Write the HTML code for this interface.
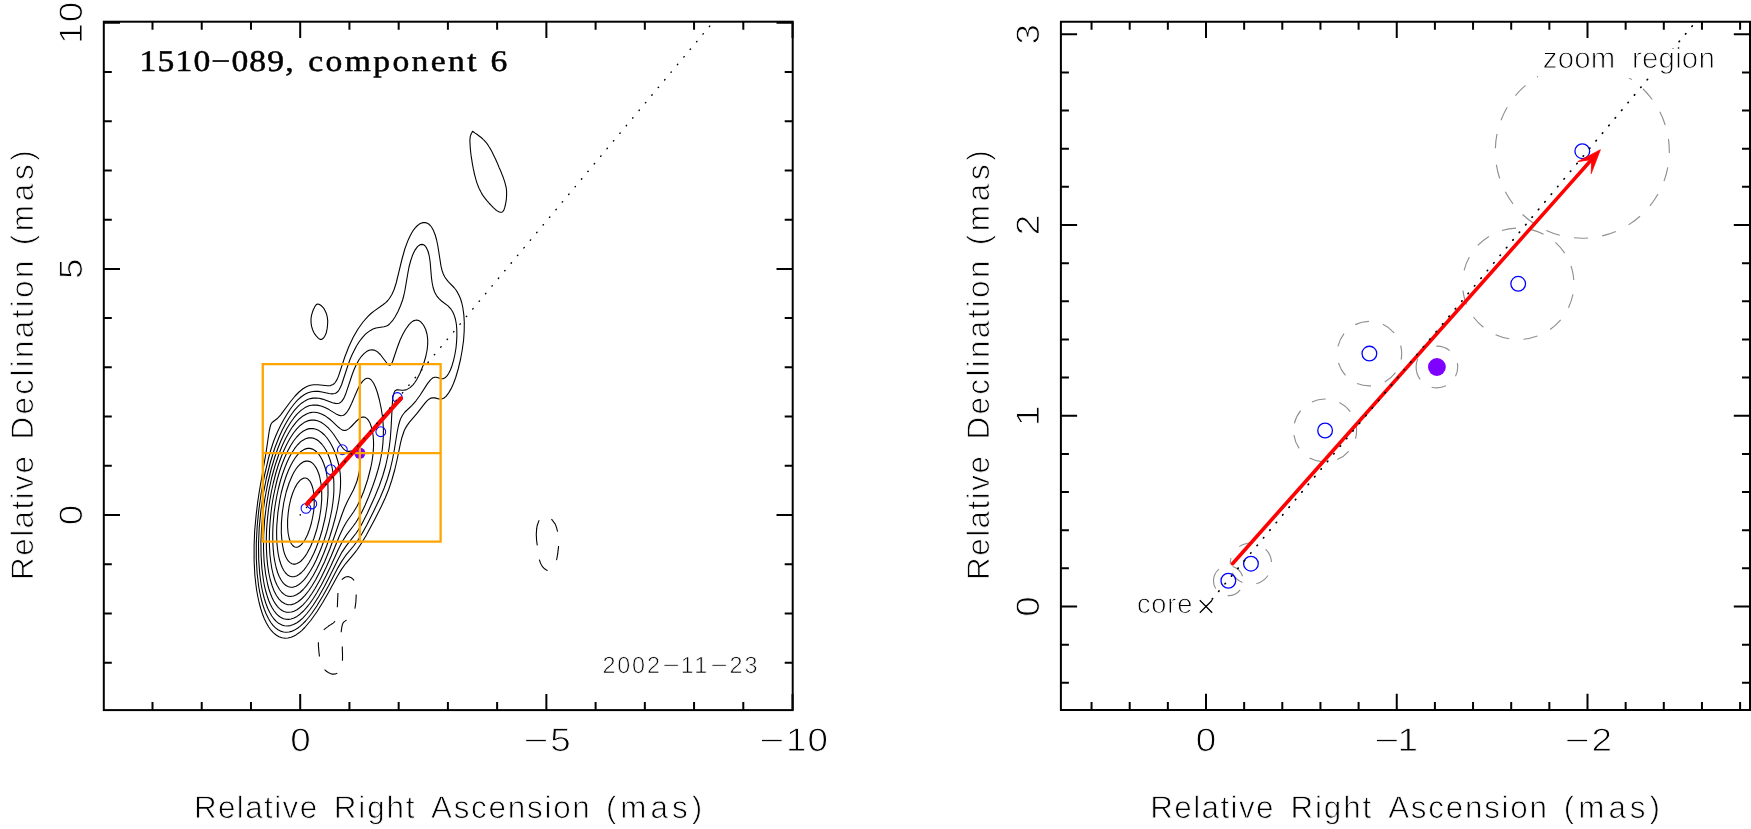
<!DOCTYPE html>
<html lang="en"><head><meta charset="utf-8"><title>1510-089, component 6</title>
<style>
html,body{margin:0;padding:0;background:#fff;}
svg{display:block;}
text{font-family:"Liberation Sans", sans-serif;fill:#000;text-rendering:geometricPrecision;}
.ax{font-size:31.4px;stroke:#fff;stroke-width:0.8px;}
.axd{font-size:32.6px;stroke:#fff;stroke-width:0.85px;}
.an{font-size:29.4px;fill:#000;stroke:#fff;stroke-width:1.0px;}
.an2{font-size:27.2px;fill:#000;stroke:#fff;stroke-width:0.9px;}
.dt{font-size:23.4px;fill:#000;stroke:#fff;stroke-width:0.7px;}
.ti{font-family:"Liberation Serif", serif;font-size:30px;stroke:#000;stroke-width:0.5px;}
.fr{fill:none;stroke:#000;stroke-width:2;stroke-linecap:square;}
.tk{fill:none;stroke:#000;stroke-width:2;stroke-linecap:butt;}
.ct{fill:none;stroke:#000;stroke-width:1.1;stroke-linejoin:round;}
.cn{fill:none;stroke:#000;stroke-width:1.1;}
.dots{fill:none;stroke:#000;stroke-width:1.4;stroke-linecap:round;stroke-dasharray:0.5 9.46;stroke-dashoffset:0.2;}
.dots2{fill:none;stroke:#000;stroke-width:1.7;stroke-linecap:round;stroke-dasharray:0.5 9.46;stroke-dashoffset:0.2;}
.bc{fill:none;stroke:#0000ff;}
.gc{fill:none;stroke:#909090;stroke-width:1.15;}
.red{fill:none;stroke:#ff0000;stroke-linecap:round;}
.or{fill:none;stroke:#ffa500;stroke-width:2.3;}
</style></head><body>
<svg width="1751" height="829" viewBox="0 0 1751 829">
<rect x="0" y="0" width="1751" height="829" fill="#fff"/>
<g id="left-panel" opacity="0.999">
<path class="ct" d="M288.0 638.0L285.0 638.2L282.0 637.8L279.0 636.8L276.5 635.3L273.5 632.9L271.0 630.2L268.7 627.0L266.4 623.0L264.2 618.5L262.3 613.5L260.7 608.5L259.2 603.0L257.8 596.5L256.6 590.0L255.7 583.0L254.8 574.5L254.1 560.5L254.1 545.5L254.7 530.5L256.2 514.5L257.7 502.0L259.3 491.5L266.0 452.9L269.3 430.5L270.5 425.5L271.1 424.0L272.1 422.5L277.0 418.8L280.5 415.1L290.6 401.5L295.1 396.0L299.0 392.0L303.0 388.8L305.5 387.3L308.0 386.1L310.5 385.3L313.5 384.8L318.0 384.7L327.5 385.8L330.5 385.6L333.0 384.5L334.0 383.8L335.2 382.5L337.0 379.6L338.5 376.1L344.8 357.0L348.9 346.5L353.1 337.5L358.0 329.0L363.0 322.0L368.0 316.4L371.0 313.5L374.0 311.1L383.0 304.8L386.0 302.4L387.8 300.5L389.4 298.5L392.0 294.3L394.1 289.5L396.2 283.0L401.9 259.5L404.8 249.0L408.0 240.4L409.8 236.5L411.5 233.3L413.2 230.5L415.0 228.1L417.0 226.0L419.0 224.3L421.0 223.2L423.0 222.6L425.0 222.5L426.5 222.9L427.8 223.5L429.0 224.3L430.3 225.5L431.5 227.0L433.5 230.6L435.2 235.0L436.5 239.5L437.7 245.0L441.0 266.2L442.0 270.2L443.3 274.0L444.8 277.0L446.5 279.4L448.5 281.8L454.0 287.5L456.0 290.0L457.5 292.4L459.1 295.5L460.6 299.0L461.8 303.0L462.8 307.5L463.8 314.5L464.3 322.5L464.2 331.0L463.6 340.0L462.3 349.5L460.6 359.0L458.2 369.0L455.7 377.5L453.5 383.5L451.0 388.9L448.5 393.2L446.0 396.3L444.0 398.0L443.0 398.5L441.5 399.0L439.0 399.0L435.0 397.9L433.0 397.7L431.0 398.1L429.0 399.2L427.0 400.9L425.0 403.2L417.0 413.4L409.5 422.2L407.0 425.6L405.5 428.1L404.1 431.0L402.0 437.2L400.5 443.1L396.8 461.0L394.7 470.0L391.7 480.5L388.7 489.5L385.2 498.0L381.3 506.5L374.7 519.5L366.4 535.0L361.6 543.0L357.3 549.5L353.5 554.4L345.5 563.8L341.5 569.4L337.5 576.0L328.2 593.0L322.7 602.5L316.8 612.0L310.7 620.5L304.8 627.5L302.0 630.3L299.0 632.8L296.0 634.9L293.5 636.3L291.0 637.3ZM289.0 632.0L286.0 632.3L283.5 632.0L280.5 631.1L278.0 629.8L275.5 627.9L273.0 625.4L270.8 622.5L268.4 618.5L266.2 614.0L264.4 609.5L262.7 604.5L261.2 599.0L259.8 592.5L258.7 586.5L257.1 573.0L256.3 558.5L256.3 543.0L257.2 526.0L258.8 510.0L261.2 493.0L264.7 474.5L268.7 457.5L270.8 450.0L273.2 442.5L275.3 437.0L277.9 431.0L280.8 425.0L283.8 419.5L287.4 413.5L290.7 408.5L294.1 404.0L297.5 400.2L301.0 397.0L304.5 394.5L308.0 392.8L311.5 391.7L315.0 391.3L318.5 391.4L322.0 392.0L329.0 393.5L332.0 393.9L334.7 393.5L336.0 393.0L337.0 392.3L338.3 391.0L339.3 389.5L341.5 385.0L348.2 364.5L350.2 359.0L352.4 354.0L356.5 346.0L358.7 342.5L361.0 339.3L363.0 336.8L365.5 334.2L368.0 332.1L370.5 330.4L373.0 329.1L376.0 328.0L384.0 326.7L386.5 326.0L388.0 325.2L389.5 324.0L392.5 320.7L395.0 317.0L398.0 311.5L400.5 305.8L402.6 300.0L403.8 295.5L404.9 290.5L407.8 273.5L409.0 267.0L410.6 261.0L412.5 255.3L415.0 250.1L417.5 246.7L419.0 245.4L420.5 244.6L422.0 244.4L423.0 244.6L424.0 245.0L425.0 245.8L426.5 247.9L427.9 251.0L428.9 254.5L429.6 258.0L430.2 262.5L431.4 277.0L432.1 282.5L433.1 287.5L434.6 292.0L436.5 295.6L439.0 298.7L441.5 301.0L448.0 305.9L451.0 309.2L452.5 311.5L453.5 313.5L454.5 316.1L455.5 319.5L456.4 324.5L456.8 329.5L456.9 335.5L456.6 341.5L456.0 348.0L454.9 354.5L453.5 360.6L451.9 366.0L450.4 370.0L448.5 373.7L447.0 375.9L445.0 377.8L443.5 378.6L442.0 378.8L440.5 378.6L436.5 377.3L434.5 377.3L432.5 378.1L430.5 379.8L427.5 383.6L420.2 395.0L416.0 400.8L412.0 405.3L405.0 412.0L402.3 415.5L401.0 417.9L400.1 420.0L398.5 425.5L397.1 432.5L394.3 450.0L392.4 460.0L390.2 469.5L387.4 479.0L384.2 488.0L380.2 497.5L373.8 511.0L366.8 525.0L362.1 533.5L357.7 540.5L353.6 546.0L345.5 555.7L341.5 561.6L338.0 567.6L328.7 585.5L323.1 595.5L316.8 606.0L311.7 613.5L308.6 617.5L305.6 621.0L303.0 623.7L300.0 626.4L297.5 628.3L294.5 630.1L291.5 631.4ZM287.5 626.0L284.5 625.8L282.0 625.1L279.0 623.6L276.5 621.6L274.0 619.0L271.8 616.0L269.8 612.5L267.8 608.5L265.9 603.5L264.3 598.5L262.9 593.0L261.7 587.5L260.7 581.5L259.8 574.5L258.7 560.0L258.5 544.0L259.2 528.0L260.8 511.5L263.2 494.5L266.3 478.5L270.3 462.5L274.6 448.5L279.3 436.5L282.3 430.0L285.2 424.5L288.4 419.0L291.7 414.0L295.0 409.7L298.5 405.9L301.5 403.2L305.0 400.9L307.5 399.6L310.5 398.6L313.0 398.1L316.0 398.0L319.0 398.3L322.5 399.1L332.5 402.7L335.5 403.4L337.5 403.5L339.0 403.2L340.4 402.5L341.5 401.6L343.5 398.9L345.5 394.6L352.2 374.5L354.3 369.0L356.4 364.5L359.0 359.8L361.5 356.3L364.0 353.6L366.5 351.6L369.0 350.3L371.5 349.8L374.0 350.1L376.0 350.9L378.0 352.3L380.3 354.5L387.5 364.0L389.0 365.1L390.0 365.2L390.5 365.0L391.5 363.8L392.5 361.8L397.3 347.5L400.1 340.0L402.7 334.5L405.5 329.5L409.0 324.6L411.0 322.6L412.5 321.4L414.0 320.6L415.5 320.2L417.0 320.1L418.5 320.5L420.0 321.3L421.0 322.2L422.5 323.8L423.7 325.5L425.7 329.5L427.1 334.5L427.7 339.5L427.7 344.5L427.1 350.0L425.8 356.5L423.3 365.0L420.0 373.3L416.5 380.0L414.8 382.5L413.0 384.8L410.0 387.6L407.0 389.4L405.5 389.9L403.5 390.2L401.5 390.2L398.0 389.8L396.5 389.9L395.5 390.4L395.0 390.9L394.0 392.8L393.0 397.0L392.4 402.5L391.1 427.5L390.3 438.5L389.2 447.5L387.8 456.0L385.6 466.0L382.7 476.0L379.2 486.0L374.7 497.0L367.2 513.5L361.3 525.0L358.6 529.5L355.9 533.5L346.0 546.1L342.0 552.1L338.0 559.4L329.3 577.0L324.4 586.5L318.7 596.5L313.3 605.0L309.7 610.0L306.5 614.0L303.0 617.8L300.0 620.5L297.0 622.7L293.5 624.6L290.5 625.6ZM291.0 619.0L288.5 619.4L286.0 619.3L283.5 618.7L281.0 617.6L278.5 615.8L276.5 613.9L274.2 611.0L272.3 608.0L270.4 604.5L268.7 600.5L267.2 596.0L265.7 591.0L264.3 585.0L263.4 580.0L261.9 568.5L261.1 556.0L260.9 542.5L261.6 527.5L262.8 513.5L264.8 499.0L267.7 483.5L271.2 469.0L274.8 457.0L277.8 448.5L280.8 441.0L283.8 434.5L287.2 428.0L290.6 422.5L294.0 417.7L297.5 413.6L301.0 410.4L305.0 407.6L309.0 405.8L313.0 405.0L317.0 405.1L321.0 406.0L325.0 407.5L329.0 409.6L336.0 413.9L338.5 415.1L341.0 415.7L342.5 415.5L343.5 415.2L345.0 414.2L346.2 413.0L347.5 411.3L349.0 408.9L351.6 403.5L357.5 389.7L359.5 385.8L361.0 383.3L363.0 380.8L365.0 379.1L367.0 378.3L368.0 378.3L369.0 378.5L370.5 379.3L371.5 380.2L373.5 383.0L375.5 387.2L377.4 392.5L379.4 400.0L381.1 408.0L382.4 416.0L383.1 423.5L383.4 430.0L383.3 436.5L382.9 443.5L382.2 450.0L381.1 456.5L379.7 463.5L377.8 470.5L375.7 477.5L372.6 486.5L368.8 496.5L365.2 505.0L361.6 512.5L358.9 517.5L356.0 522.2L353.3 526.0L346.5 534.9L342.5 541.3L338.5 549.1L330.8 566.0L326.2 575.5L321.3 585.0L316.7 593.0L313.3 598.5L309.8 603.5L306.5 607.7L303.5 611.0L300.0 614.2L297.0 616.4L294.0 618.0ZM291.5 612.0L289.0 612.3L286.5 612.2L284.0 611.5L282.0 610.5L279.5 608.6L277.5 606.6L275.5 603.9L273.7 601.0L272.0 597.5L270.4 593.5L268.9 589.0L267.7 584.5L265.6 574.0L264.1 561.5L263.5 548.5L263.7 534.5L264.6 520.0L266.3 506.0L268.7 491.5L271.7 477.5L275.2 465.0L279.3 453.0L282.3 445.5L285.6 438.5L289.2 432.0L292.5 426.8L296.0 422.3L299.5 418.7L303.0 415.9L307.0 413.7L310.5 412.6L312.5 412.3L314.5 412.3L318.0 412.8L322.0 414.2L325.5 416.1L329.5 419.0L332.5 421.6L338.5 427.3L340.5 428.9L342.5 430.1L344.5 430.5L346.5 430.1L349.0 428.6L351.3 426.5L356.5 421.0L359.5 418.4L361.0 417.6L362.5 417.1L364.0 417.1L365.0 417.3L367.0 418.6L368.5 420.4L370.0 423.1L371.4 427.0L372.4 431.0L373.1 435.5L373.5 440.5L373.6 445.5L373.3 450.5L372.8 456.0L371.9 462.0L370.8 467.5L367.7 479.5L363.7 491.5L360.4 499.5L356.9 506.5L353.5 512.0L346.5 522.0L343.0 528.2L339.5 535.8L331.2 556.0L326.3 567.0L320.7 578.5L315.1 588.5L311.9 593.5L308.8 598.0L306.0 601.5L303.0 604.8L300.0 607.5L297.0 609.7L294.0 611.2ZM291.5 604.6L289.5 604.8L288.0 604.7L285.0 603.8L282.0 602.1L279.0 599.1L276.4 595.5L274.1 591.0L272.2 586.0L270.2 579.5L268.7 572.5L267.6 565.0L266.8 556.5L266.4 548.0L266.3 539.0L266.6 529.5L267.3 520.5L268.3 511.0L269.7 501.0L271.3 492.0L273.3 483.0L275.7 473.5L278.3 465.0L280.8 458.0L283.8 450.5L286.9 444.0L290.2 438.0L293.5 433.0L297.0 428.6L300.5 425.2L304.0 422.6L307.5 420.9L311.0 420.1L314.5 420.1L317.5 420.8L321.0 422.3L324.5 424.6L328.0 427.7L330.6 430.5L333.4 434.0L342.0 447.0L343.5 448.8L345.0 450.1L346.5 451.0L348.5 451.4L353.5 450.7L355.0 450.7L356.5 451.3L357.5 452.1L358.5 453.5L359.0 454.8L359.8 458.5L360.1 463.5L359.7 469.0L359.0 473.0L358.1 477.0L357.0 481.0L355.5 485.0L353.4 490.0L347.5 501.2L344.5 507.8L341.5 515.7L334.2 537.0L329.8 549.0L324.7 561.5L319.7 572.0L315.8 579.5L312.2 585.5L308.9 590.5L305.0 595.4L301.5 599.0L298.0 601.8L294.5 603.7ZM293.5 596.0L290.5 596.5L287.5 596.1L286.0 595.5L284.5 594.6L281.9 592.5L279.5 589.5L277.2 585.5L275.2 581.0L273.3 575.0L271.8 568.5L270.8 562.0L269.9 554.5L269.5 547.0L269.3 539.0L269.5 530.5L270.1 521.5L270.9 513.5L271.8 506.0L273.3 497.0L275.2 488.0L277.2 479.5L279.7 471.0L282.1 464.0L284.7 457.5L287.7 451.0L290.7 445.5L293.6 441.0L296.7 437.0L300.0 433.6L303.0 431.2L306.5 429.4L309.5 428.6L313.0 428.5L316.0 429.2L319.0 430.6L321.7 432.5L324.5 435.0L327.1 438.0L329.8 442.0L332.3 446.5L334.4 451.0L336.2 456.0L337.9 461.5L339.2 467.0L340.1 472.5L340.5 477.5L340.6 482.5L340.4 488.0L339.9 493.5L338.8 501.0L337.3 509.0L335.2 518.0L332.6 527.5L329.7 537.0L326.8 545.5L323.7 553.5L320.3 561.5L316.7 569.0L313.2 575.5L309.8 581.0L306.5 585.6L303.2 589.5L300.0 592.5L296.5 594.8ZM293.5 587.1L291.0 587.3L288.5 586.8L286.0 585.5L283.5 583.3L281.4 580.5L279.2 576.5L277.6 572.5L276.1 567.5L274.8 561.5L273.8 555.5L273.2 549.0L272.8 542.0L272.7 535.0L272.9 527.5L273.4 520.5L274.2 512.0L275.3 504.5L276.7 496.5L278.3 489.0L280.2 481.5L282.2 475.0L284.3 469.0L286.7 463.0L289.2 457.5L291.7 453.0L294.5 448.7L297.4 445.0L300.0 442.3L302.5 440.4L305.5 438.7L308.5 437.9L311.5 437.8L314.0 438.4L316.5 439.5L319.0 441.3L321.7 444.0L324.0 447.0L326.2 450.5L328.1 454.5L329.8 459.0L331.2 463.5L332.3 468.5L333.1 473.5L333.7 479.0L333.9 484.5L333.9 490.5L333.6 496.0L332.9 502.5L331.9 509.5L330.6 516.0L328.8 524.0L326.8 531.5L324.3 539.5L321.8 546.5L319.2 553.0L316.2 560.0L313.2 566.0L310.3 571.0L307.4 575.5L304.5 579.3L301.5 582.4L299.0 584.5L296.0 586.3ZM294.5 576.6L292.0 576.7L290.0 576.3L287.5 574.9L285.6 573.0L283.8 570.5L282.2 567.5L280.8 564.0L279.4 559.5L278.3 554.5L277.6 549.5L277.0 544.0L276.7 538.0L276.6 532.0L276.8 525.5L277.9 512.5L279.8 500.0L281.2 493.0L282.8 487.0L284.4 481.5L286.4 475.5L288.4 470.5L290.7 465.5L292.9 461.5L295.1 458.0L297.5 454.9L300.0 452.3L302.5 450.4L305.0 449.1L307.5 448.4L310.0 448.4L312.5 449.1L314.5 450.2L316.5 451.8L318.5 453.9L320.3 456.5L322.0 459.5L323.5 463.0L324.9 467.0L325.9 470.5L326.8 475.0L327.4 479.5L327.9 484.5L328.0 489.5L328.0 495.0L327.1 505.5L325.2 517.5L322.2 530.0L320.3 536.5L318.2 542.5L316.1 548.0L313.8 553.5L311.3 558.5L308.8 563.0L306.5 566.5L304.0 569.8L301.5 572.5L299.0 574.5L296.5 575.9ZM295.5 564.1L293.5 564.1L292.0 563.8L290.0 562.6L288.5 561.2L287.0 559.1L285.6 556.5L284.5 553.6L283.5 550.2L282.1 542.5L281.3 533.0L281.4 523.0L282.3 512.5L283.8 502.5L286.2 492.0L289.1 483.0L292.5 475.0L294.1 472.0L296.0 469.0L298.0 466.4L300.0 464.3L302.0 462.7L304.0 461.6L306.0 461.1L308.0 461.1L310.0 461.6L311.5 462.4L313.0 463.7L314.6 465.5L316.0 467.6L317.5 470.5L318.7 473.5L319.6 476.5L321.0 483.5L321.7 491.5L321.7 500.0L320.9 509.0L319.3 519.0L316.9 529.0L313.9 538.5L310.6 546.5L306.9 553.5L305.0 556.4L303.0 558.9L301.0 561.0L299.0 562.6L297.0 563.6ZM297.5 547.1L296.0 547.2L295.0 547.0L293.9 546.5L292.7 545.5L291.5 544.0L290.7 542.5L289.2 538.5L288.1 533.0L287.6 527.0L287.6 520.0L288.2 513.0L289.2 506.0L290.8 499.0L292.7 493.0L295.0 487.6L297.5 483.3L300.0 480.4L301.5 479.2L303.0 478.4L304.5 478.0L305.5 478.0L307.0 478.5L308.0 479.1L310.0 481.3L311.6 484.5L312.9 488.5L313.8 493.5L314.2 499.0L314.2 505.0L313.7 511.0L312.6 517.5L311.3 523.5L309.5 529.5L307.4 535.0L305.0 539.7L302.5 543.3L300.0 545.8L298.5 546.7ZM472.6 131.3L473.6 132.0L475.1 133.1L476.9 134.3L478.8 135.7L480.5 137.0L482.0 138.2L483.1 139.3L484.2 140.3L485.1 141.3L486.0 142.3L486.8 143.4L487.8 144.7L488.7 146.2L489.7 147.7L490.7 149.4L491.6 151.1L492.6 153.0L493.5 154.9L494.5 156.9L495.5 159.0L496.5 161.2L497.5 163.4L498.4 165.7L499.3 167.9L500.3 170.1L501.2 172.3L502.1 174.6L503.0 176.8L503.7 178.9L504.4 180.9L505.0 182.8L505.4 184.4L505.8 186.1L506.2 187.7L506.4 189.3L506.6 191.0L506.6 192.9L506.6 194.9L506.5 196.9L506.4 198.9L506.1 200.8L505.8 202.6L505.5 204.3L505.1 206.0L504.7 207.7L504.2 209.2L503.6 210.4L503.0 211.3L502.3 211.9L501.5 212.2L500.7 212.3L499.8 212.1L498.9 211.8L497.9 211.3L496.8 210.6L495.6 209.7L494.4 208.6L493.1 207.4L491.9 206.1L490.7 204.8L489.4 203.5L488.2 202.1L486.9 200.6L485.7 199.1L484.5 197.6L483.4 196.1L482.4 194.6L481.5 193.1L480.7 191.6L479.9 190.0L479.1 188.4L478.4 186.7L477.7 184.9L477.0 183.1L476.4 181.1L475.8 179.2L475.3 177.2L474.7 175.1L474.2 173.0L473.8 170.9L473.3 168.7L472.9 166.5L472.5 164.3L472.1 162.1L471.8 159.9L471.4 157.7L471.1 155.5L470.8 153.3L470.6 151.2L470.4 149.1L470.2 147.0L470.1 144.9L470.0 142.9L469.9 140.9L470.0 139.1L470.1 137.5L470.4 136.1L470.8 134.8L471.3 133.7L471.8 132.7L472.3 131.9ZM316.9 304.2L316.0 305.0L315.0 306.3L314.2 308.0L313.3 309.8L312.6 311.7L312.1 313.4L311.6 315.0L311.3 316.6L311.1 318.2L311.0 319.8L311.0 321.4L311.1 323.0L311.3 324.7L311.6 326.4L312.1 328.0L312.6 329.7L313.3 331.2L314.0 332.7L314.9 334.1L316.0 335.6L317.1 336.9L318.3 338.1L319.5 339.0L320.5 339.4L321.4 339.4L322.3 339.0L323.2 338.3L324.0 337.4L324.7 336.3L325.3 335.1L325.9 333.8L326.4 332.3L326.7 330.6L327.1 328.9L327.3 327.1L327.5 325.5L327.6 323.8L327.7 322.2L327.7 320.6L327.5 318.9L327.3 317.3L327.0 315.8L326.6 314.3L326.0 312.7L325.3 311.2L324.6 309.7L323.8 308.4L322.9 307.4L322.0 306.4L321.0 305.5L319.9 304.7L318.9 304.2L317.8 304.0Z"/>
<path class="cn" style="stroke-dasharray:14.24 14.24" d="M342.0 579.5L342.7 578.9L343.6 578.2L344.6 577.5L345.7 577.0L346.7 576.7L347.8 576.6L348.9 576.8L350.0 577.2L351.3 577.8L352.4 578.6L353.4 579.6L354.3 581.0L354.9 582.7L355.4 584.8L355.7 587.2L355.9 589.7L356.1 592.3L356.2 594.7L356.1 597.2L356.0 599.8L355.8 602.4L355.5 604.9L355.1 607.2L354.7 609.2L354.2 610.8L353.6 612.0L352.9 613.1L352.1 614.0L351.4 614.8L350.7 615.7L349.9 616.6L349.2 617.4L348.5 618.1L347.7 618.7L347.0 619.4L346.3 620.1L345.6 620.6L345.0 621.1L344.3 621.6L343.7 622.1L343.2 622.8L342.7 623.7L342.3 624.8L342.0 626.2L341.7 627.8L341.5 629.4L341.3 630.9L341.2 632.4L341.2 633.6L341.3 634.9L341.5 636.1L341.7 637.2L341.8 638.4L342.0 639.6L342.0 640.7L342.1 641.7L342.1 642.8L342.2 643.9L342.2 645.2L342.3 646.8L342.3 648.9L342.4 651.3L342.5 654.0L342.5 656.6L342.5 659.1L342.4 661.3L342.2 663.1L342.0 664.8L341.7 666.3L341.4 667.7L341.0 668.9L340.5 670.0L340.0 670.9L339.4 671.7L338.8 672.3L338.1 672.9L337.3 673.3L336.5 673.6L335.6 673.9L334.6 674.0L333.6 674.1L332.5 674.1L331.4 673.9L330.4 673.6L329.3 673.1L328.3 672.5L327.2 671.8L326.1 671.0L325.2 670.1L324.3 669.3L323.6 668.4L322.9 667.5L322.4 666.5L321.9 665.5L321.4 664.5L321.0 663.5L320.6 662.5L320.4 661.6L320.1 660.7L319.9 659.7L319.7 658.5L319.5 657.0L319.3 655.0L319.0 652.7L318.8 650.2L318.6 647.6L318.4 645.3L318.4 643.2L318.4 641.5L318.5 640.0L318.7 638.7L318.9 637.5L319.2 636.3L319.5 635.3L320.0 634.3L320.5 633.4L321.1 632.7L321.7 631.9L322.4 631.2L323.2 630.5L324.0 629.7L324.9 628.9L325.9 628.1L326.9 627.4L328.0 626.6L328.9 625.8L330.0 625.1L331.0 624.5L332.1 623.8L333.1 623.1L334.0 622.4L334.7 621.5L335.3 620.6L335.8 619.5L336.2 618.4L336.4 617.3L336.7 616.1L336.9 615.0L337.1 613.9L337.2 612.9L337.2 611.8L337.2 610.7L337.3 609.3L337.3 607.8L337.4 605.8L337.5 603.5L337.6 601.1L337.7 598.6L337.8 596.2L337.9 594.0L338.1 592.0L338.3 590.1L338.5 588.4L338.8 586.7L339.0 585.2L339.4 583.9L339.7 582.8L340.0 581.9L340.4 581.3L340.8 580.7L341.3 580.1Z"/>
<path class="cn" style="stroke-dasharray:25.5 14.38 14.3 14.38 14.3 14.38 14.3 14.38" d="M539.1 520.4L538.8 521.1L538.4 522.0L538.1 523.0L537.7 524.0L537.4 525.0L537.1 526.1L536.9 527.1L536.8 528.2L536.6 529.4L536.5 530.5L536.5 531.6L536.4 532.6L536.3 533.4L536.3 534.2L536.3 534.9L536.3 535.5L536.4 536.2L536.4 536.9L536.4 537.6L536.5 538.4L536.5 539.1L536.6 539.8L536.6 540.5L536.7 541.3L536.8 542.0L536.9 542.6L537.0 543.3L537.1 544.0L537.2 544.8L537.4 545.6L537.5 546.6L537.6 547.6L537.6 548.7L537.7 549.8L537.9 551.0L538.0 552.1L538.2 553.3L538.4 554.5L538.6 555.8L538.8 557.1L539.0 558.3L539.3 559.4L539.6 560.5L540.0 561.5L540.3 562.5L540.7 563.5L541.1 564.3L541.5 565.1L541.9 565.8L542.3 566.5L542.8 567.0L543.2 567.5L543.7 568.0L544.2 568.4L544.7 568.8L545.2 569.3L545.8 569.6L546.4 570.0L546.9 570.2L547.5 570.4L548.0 570.4L548.5 570.4L549.1 570.3L549.6 570.1L550.2 569.8L550.7 569.5L551.3 569.0L551.8 568.5L552.4 567.9L552.9 567.2L553.5 566.5L554.0 565.7L554.4 564.9L554.9 564.0L555.3 563.0L555.8 562.0L556.1 561.0L556.5 559.9L556.8 558.9L557.0 557.8L557.2 556.7L557.4 555.5L557.6 554.4L557.8 553.2L557.9 552.0L558.1 550.7L558.2 549.5L558.4 548.2L558.5 546.9L558.5 545.6L558.6 544.3L558.6 543.0L558.6 541.7L558.6 540.4L558.6 539.2L558.5 538.0L558.4 536.9L558.3 535.8L558.2 534.8L558.0 533.8L557.8 532.8L557.6 531.7L557.3 530.6L557.0 529.4L556.7 528.1L556.3 527.0L556.0 525.9L555.6 525.0L555.3 524.2L554.9 523.6L554.5 523.1L554.2 522.6L553.8 522.2L553.4 521.7L553.1 521.2L552.8 520.8L552.4 520.3L552.1 519.9L551.7 519.4L551.3 519.0L550.7 518.5L550.1 518.0L549.5 517.6L548.8 517.1L548.1 516.8L547.5 516.5L546.8 516.4L546.2 516.4L545.5 516.4L544.8 516.5L544.2 516.7L543.7 516.8L543.1 517.0L542.6 517.3L542.2 517.5L541.7 517.8L541.3 518.2L540.9 518.5L540.6 518.7L540.3 518.9L540.0 519.2L539.7 519.5L539.4 519.9Z"/>
<circle class="bc" cx="305.97" cy="508.35" r="4.9" stroke-width="1.05"/>
<circle class="bc" cx="311.80" cy="503.96" r="4.9" stroke-width="1.05"/>
<circle class="bc" cx="330.94" cy="469.58" r="4.9" stroke-width="1.05"/>
<circle class="bc" cx="342.37" cy="449.74" r="4.9" stroke-width="1.05"/>
<circle class="bc" cx="380.78" cy="431.72" r="4.9" stroke-width="1.05"/>
<circle class="bc" cx="397.32" cy="397.51" r="4.9" stroke-width="1.05"/>
<circle cx="359.80" cy="453.19" r="5.6" fill="#7f00ff"/>
<path class="or" d="M262.78 364.13H440.61V541.68H262.78Z M359.80 364.13V541.68 M262.78 453.19H440.61"/>
<path class="red" stroke-width="4.3" d="M307.04 503.96L400.80 398.42"/>
<path class="dots" d="M300.20 515.00L710.88 24.70"/>
<rect class="fr" x="103.80" y="21.70" width="688.90" height="688.40"/>
<path class="tk" d="M300.20 710.10v-16.20M300.20 21.70v16.20M546.37 710.10v-16.20M546.37 21.70v16.20M792.53 710.10v-16.20M792.53 21.70v16.20M152.50 710.10v-8.00M152.50 21.70v8.00M201.73 710.10v-8.00M201.73 21.70v8.00M250.97 710.10v-8.00M250.97 21.70v8.00M349.43 710.10v-8.00M349.43 21.70v8.00M398.67 710.10v-8.00M398.67 21.70v8.00M447.90 710.10v-8.00M447.90 21.70v8.00M497.13 710.10v-8.00M497.13 21.70v8.00M595.60 710.10v-8.00M595.60 21.70v8.00M644.83 710.10v-8.00M644.83 21.70v8.00M694.06 710.10v-8.00M694.06 21.70v8.00M743.30 710.10v-8.00M743.30 21.70v8.00M103.80 515.00h16.20M792.70 515.00h-16.20M103.80 268.88h16.20M792.70 268.88h-16.20M103.80 22.75h16.20M792.70 22.75h-16.20M103.80 662.67h8.00M792.70 662.67h-8.00M103.80 613.45h8.00M792.70 613.45h-8.00M103.80 564.23h8.00M792.70 564.23h-8.00M103.80 465.77h8.00M792.70 465.77h-8.00M103.80 416.55h8.00M792.70 416.55h-8.00M103.80 367.32h8.00M792.70 367.32h-8.00M103.80 318.10h8.00M792.70 318.10h-8.00M103.80 219.65h8.00M792.70 219.65h-8.00M103.80 170.43h8.00M792.70 170.43h-8.00M103.80 121.20h8.00M792.70 121.20h-8.00M103.80 71.97h8.00M792.70 71.97h-8.00"/>
<text class="axd" transform="translate(300.60 751.00) scale(1.130 1)" text-anchor="middle">0</text>
<text class="ax" transform="translate(523.44 751.0) scale(1.366 1)">−</text>
<text class="axd" transform="translate(550.30 751.00) scale(1.130 1)" text-anchor="start">5</text>
<text class="ax" transform="translate(759.24 751.0) scale(1.366 1)">−</text>
<text class="axd" transform="translate(786.00 751.00) scale(1.130 1)" text-anchor="start" letter-spacing="0.80">10</text>
<text class="axd" transform="translate(81.90 515.00) rotate(-90) scale(1.130 1)" text-anchor="middle">0</text>
<text class="axd" transform="translate(81.90 268.88) rotate(-90) scale(1.130 1)" text-anchor="middle">5</text>
<text class="axd" transform="translate(81.90 22.25) rotate(-90) scale(1.130 1)" text-anchor="middle" letter-spacing="0.80">10</text>
<text class="ax" x="193.9" y="817.7" text-anchor="start" textLength="123.2" lengthAdjust="spacing">Relative</text>
<text class="ax" x="333.8" y="817.7" text-anchor="start" textLength="80.7" lengthAdjust="spacing">Right</text>
<text class="ax" x="431.0" y="817.7" text-anchor="start" textLength="158.8" lengthAdjust="spacing">Ascension</text>
<text class="ax" x="605.9" y="817.7" text-anchor="start" textLength="96.2" lengthAdjust="spacing">(mas)</text>
<text class="ax" transform="translate(32.6 580.0) rotate(-90)" text-anchor="start" textLength="124.0" lengthAdjust="spacing">Relative</text>
<text class="ax" transform="translate(32.6 439.5) rotate(-90)" text-anchor="start" textLength="178.9" lengthAdjust="spacing">Declination</text>
<text class="ax" transform="translate(32.6 245.3) rotate(-90)" text-anchor="start" textLength="95.1" lengthAdjust="spacing">(mas)</text>
<text class="ti" transform="translate(139.6 70.6) scale(1.120 1)" textLength="137.5" lengthAdjust="spacing">1510−089,</text>
<text class="ti" transform="translate(308.2 70.6) scale(1.120 1)" textLength="150.4" lengthAdjust="spacing">component</text>
<text class="ti" transform="translate(490.6 70.6) scale(1.120 1)" textLength="15.2" lengthAdjust="spacing">6</text>
<text class="dt" transform="translate(602.60 673.00) scale(1.000 1)" text-anchor="start" letter-spacing="1.75">2002</text>
<text class="dt" transform="translate(662.45 673.0) scale(1.261 1)">−</text>
<text class="dt" transform="translate(680.80 673.00) scale(1.000 1)" text-anchor="start" letter-spacing="2.10">11</text>
<text class="dt" transform="translate(710.45 673.0) scale(1.261 1)">−</text>
<text class="dt" transform="translate(729.40 673.00) scale(1.000 1)" text-anchor="start" letter-spacing="2.00">23</text>
</g>
<g id="right-panel" opacity="0.999">
<clipPath id="rclip"><rect x="1060.90" y="21.70" width="689.10" height="688.20"/></clipPath>
<g clip-path="url(#rclip)">
<path class="gc" style="stroke-dasharray:14.3 14.3;stroke-dashoffset:1.00" d="M1213.45 580.75A14.90 14.90 0 1 1 1243.25 580.75A14.90 14.90 0 1 1 1213.45 580.75"/>
<path class="gc" style="stroke-dasharray:14.3 14.3;stroke-dashoffset:8.70" d="M1230.25 563.70A20.70 20.70 0 1 1 1271.65 563.70A20.70 20.70 0 1 1 1230.25 563.70"/>
<path class="gc" style="stroke-dasharray:14.3 14.3;stroke-dashoffset:21.50" d="M1293.60 430.50A31.50 31.50 0 1 1 1356.60 430.50A31.50 31.50 0 1 1 1293.60 430.50"/>
<path class="gc" style="stroke-dasharray:14.3 14.3;stroke-dashoffset:21.30" d="M1337.10 353.60A32.30 32.30 0 1 1 1401.70 353.60A32.30 32.30 0 1 1 1337.10 353.60"/>
<path class="gc" style="stroke-dasharray:14.3 14.3;stroke-dashoffset:15.00" d="M1462.50 283.80A55.70 55.70 0 1 1 1573.90 283.80A55.70 55.70 0 1 1 1462.50 283.80"/>
<path class="gc" style="stroke-dasharray:14.3 14.3;stroke-dashoffset:25.50" d="M1495.30 151.20A87.00 87.00 0 1 1 1669.30 151.20A87.00 87.00 0 1 1 1495.30 151.20"/>
<path class="gc" style="stroke-dasharray:8.3 23.6 14.4 14.8 13.6 13.5 14.7 14 13.8 40;stroke-dashoffset:0.00" d="M1416.10 367.00A20.80 20.80 0 1 1 1457.70 367.00A20.80 20.80 0 1 1 1416.10 367.00"/>
<circle class="bc" cx="1228.35" cy="580.75" r="7.35" stroke-width="1.3"/>
<circle class="bc" cx="1250.95" cy="563.70" r="7.35" stroke-width="1.3"/>
<circle class="bc" cx="1325.10" cy="430.50" r="7.35" stroke-width="1.3"/>
<circle class="bc" cx="1369.40" cy="353.60" r="7.35" stroke-width="1.3"/>
<circle class="bc" cx="1518.20" cy="283.80" r="7.35" stroke-width="1.3"/>
<circle class="bc" cx="1582.30" cy="151.20" r="7.35" stroke-width="1.3"/>
<circle cx="1436.9" cy="367.0" r="8.9" fill="#7f00ff"/>
<path class="red" stroke-width="3.6" d="M1232.50 563.70L1591.63 159.57"/>
<path fill="#ff0000" stroke="#ff0000" stroke-width="0.8" stroke-linejoin="round" d="M1600.40 149.70L1591.19 173.62L1591.63 159.57L1577.73 161.66Z"/>
<path class="dots2" d="M1206.00 606.50L1693.32 24.70"/>
</g>
<path d="M1199.80 600.30l12.4 12.4m0 -12.4l-12.4 12.4" fill="none" stroke="#000" stroke-width="1.3"/>
<text class="an2" x="1136.9" y="612.8" text-anchor="start" textLength="55.4" lengthAdjust="spacing">core</text>
<rect x="1538" y="48.5" width="181" height="29.5" fill="#fff"/>
<text class="an" x="1542.8" y="68.3" text-anchor="start" textLength="72.5" lengthAdjust="spacing">zoom</text>
<text class="an" x="1632.0" y="68.3" text-anchor="start" textLength="82.8" lengthAdjust="spacing">region</text>
<path class="fr" d="M1060.90 21.70H1750.00V709.90H1060.90Z"/>
<path class="tk" d="M1206.00 709.90v-16.20M1206.00 21.70v16.20M1396.75 709.90v-16.20M1396.75 21.70v16.20M1587.50 709.90v-16.20M1587.50 21.70v16.20M1740.10 709.90v-8.00M1740.10 21.70v8.00M1701.95 709.90v-8.00M1701.95 21.70v8.00M1663.80 709.90v-8.00M1663.80 21.70v8.00M1625.65 709.90v-8.00M1625.65 21.70v8.00M1549.35 709.90v-8.00M1549.35 21.70v8.00M1511.20 709.90v-8.00M1511.20 21.70v8.00M1473.05 709.90v-8.00M1473.05 21.70v8.00M1434.90 709.90v-8.00M1434.90 21.70v8.00M1358.60 709.90v-8.00M1358.60 21.70v8.00M1320.45 709.90v-8.00M1320.45 21.70v8.00M1282.30 709.90v-8.00M1282.30 21.70v8.00M1244.15 709.90v-8.00M1244.15 21.70v8.00M1167.85 709.90v-8.00M1167.85 21.70v8.00M1129.70 709.90v-8.00M1129.70 21.70v8.00M1091.55 709.90v-8.00M1091.55 21.70v8.00M1060.90 606.50h16.20M1750.00 606.50h-16.20M1060.90 415.75h16.20M1750.00 415.75h-16.20M1060.90 225.00h16.20M1750.00 225.00h-16.20M1060.90 34.25h16.20M1750.00 34.25h-16.20M1060.90 682.80h8.00M1750.00 682.80h-8.00M1060.90 644.65h8.00M1750.00 644.65h-8.00M1060.90 568.35h8.00M1750.00 568.35h-8.00M1060.90 530.20h8.00M1750.00 530.20h-8.00M1060.90 492.05h8.00M1750.00 492.05h-8.00M1060.90 453.90h8.00M1750.00 453.90h-8.00M1060.90 377.60h8.00M1750.00 377.60h-8.00M1060.90 339.45h8.00M1750.00 339.45h-8.00M1060.90 301.30h8.00M1750.00 301.30h-8.00M1060.90 263.15h8.00M1750.00 263.15h-8.00M1060.90 186.85h8.00M1750.00 186.85h-8.00M1060.90 148.70h8.00M1750.00 148.70h-8.00M1060.90 110.55h8.00M1750.00 110.55h-8.00M1060.90 72.40h8.00M1750.00 72.40h-8.00"/>
<text class="axd" transform="translate(1206.00 751.00) scale(1.130 1)" text-anchor="middle">0</text>
<text class="ax" transform="translate(1374.24 751.0) scale(1.366 1)">−</text>
<text class="axd" transform="translate(1397.60 751.00) scale(1.130 1)" text-anchor="start">1</text>
<text class="ax" transform="translate(1564.74 751.0) scale(1.366 1)">−</text>
<text class="axd" transform="translate(1591.40 751.00) scale(1.130 1)" text-anchor="start">2</text>
<text class="axd" transform="translate(1038.90 606.50) rotate(-90) scale(1.130 1)" text-anchor="middle">0</text>
<text class="axd" transform="translate(1038.90 415.75) rotate(-90) scale(1.130 1)" text-anchor="middle">1</text>
<text class="axd" transform="translate(1038.90 225.00) rotate(-90) scale(1.130 1)" text-anchor="middle">2</text>
<text class="axd" transform="translate(1038.90 34.25) rotate(-90) scale(1.130 1)" text-anchor="middle">3</text>
<text class="ax" x="1150.3" y="817.7" text-anchor="start" textLength="123.2" lengthAdjust="spacing">Relative</text>
<text class="ax" x="1290.5" y="817.7" text-anchor="start" textLength="80.7" lengthAdjust="spacing">Right</text>
<text class="ax" x="1388.2" y="817.7" text-anchor="start" textLength="158.8" lengthAdjust="spacing">Ascension</text>
<text class="ax" x="1563.8" y="817.7" text-anchor="start" textLength="96.2" lengthAdjust="spacing">(mas)</text>
<text class="ax" transform="translate(989.4 580.0) rotate(-90)" text-anchor="start" textLength="124.0" lengthAdjust="spacing">Relative</text>
<text class="ax" transform="translate(989.4 439.5) rotate(-90)" text-anchor="start" textLength="178.9" lengthAdjust="spacing">Declination</text>
<text class="ax" transform="translate(989.4 245.3) rotate(-90)" text-anchor="start" textLength="95.1" lengthAdjust="spacing">(mas)</text>
</g>
</svg></body></html>
